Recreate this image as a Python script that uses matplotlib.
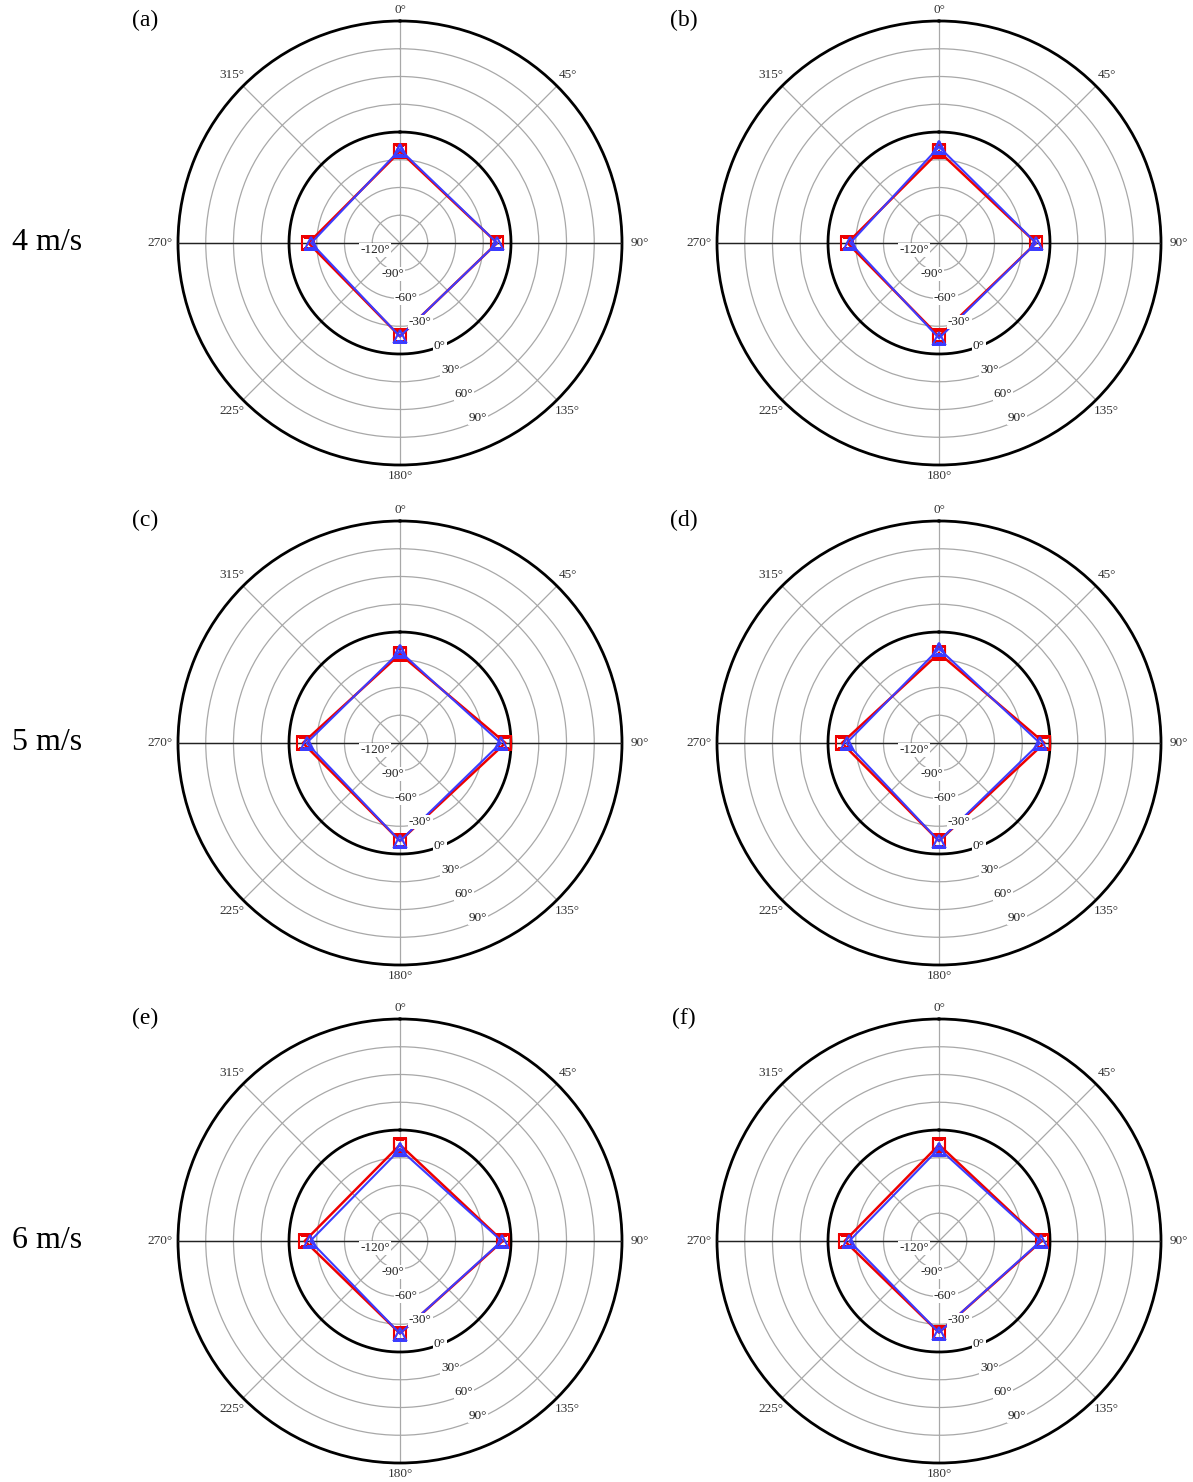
import numpy as np
import matplotlib
matplotlib.use('Agg')
import matplotlib.pyplot as plt
from matplotlib.transforms import offset_copy

# ---------------- data ----------------
theta_deg = [0, 90, 180, 270]
panel_labels = ['(a)', '(b)', '(c)', '(d)', '(e)', '(f)']
row_labels = ['4 m/s', '5 m/s', '6 m/s']

red_a = [-21, -15, -19, -21]
blue_a = [-19, -15, -19, -24]
red_b = [-21, -15, -19, -21]
blue_b = [-16, -15, -17, -24]
red_c = [-24, -6, -14, -15]
blue_c = [-21, -11, -14, -19]
red_d = [-23, -6, -14, -15]
blue_d = [-18, -11, -14, -20]
red_e = [-16, -9, -20, -17]
blue_e = [-21, -10, -20, -23]
red_f = [-16, -9, -21, -18]
blue_f = [-20, -10, -21, -23]

red_series = [red_a, red_b, red_c, red_d, red_e, red_f]
blue_series = [blue_a, blue_b, blue_c, blue_d, blue_e, blue_f]

angle_ticks = [0, 45, 90, 135, 180, 225, 270, 315]
angle_tick_labels = ['0°', '45°', '90°', '135°', '180°', '225°', '270°', '315°']
radial_ticks = [-120, -90, -60, -30, 0, 30, 60, 90]
radial_tick_labels = ['-120°', '-90°', '-60°', '-30°', '0°', '30°', '60°', '90°']
r_min, r_max = -120, 120

# ---------------- layout ----------------
W, H = 1193, 1482
fig = plt.figure(figsize=(W / 100, H / 100), dpi=100)
centers = [(400, 243), (939, 243), (400, 743), (939, 743), (400, 1241), (939, 1241)]
R = 222
serif = 'Liberation Serif'
tick_pads = [-2.5, 0.5, 2.5, 0.5, -2.5, 0.5, 2.5, 0.5]

for i, (cx, cy) in enumerate(centers):
    ax = fig.add_axes([(cx - R) / W, 1 - (cy + R) / H, 2 * R / W, 2 * R / H],
                      projection='polar')
    ax.set_theta_zero_location('N')
    ax.set_theta_direction(-1)
    ax.set_ylim(r_min, r_max)
    ax.set_thetagrids(angle_ticks, angle_tick_labels, fontsize=9.5,
                      color='#333333', family=serif)
    ax.set_rgrids([t for t in radial_ticks if t not in (r_min, 0)],
                  labels=[''] * 6)
    for tk, p in zip(ax.xaxis.get_major_ticks(), tick_pads):
        tk.set_pad(p)
    ax.grid(True, color='#a8a8a8', lw=0.9)
    ax.spines['polar'].set_linewidth(2)
    ax.spines['polar'].set_color('black')

    # darker horizontal axis line
    ax.plot(np.deg2rad([90, 270]), [r_max, r_max], color='#222222', lw=1,
            zorder=2.6)
    # thick zero circle
    th = np.linspace(0, 2 * np.pi, 400)
    ax.plot(th, np.zeros_like(th), color='black', lw=2, zorder=2.7)

    thc = np.deg2rad(theta_deg + [theta_deg[0]])
    rv = red_series[i] + [red_series[i][0]]
    bv = blue_series[i] + [blue_series[i][0]]
    ax.plot(thc, rv, color='#ee0000', lw=1.8, marker='s', ms=8, mfc='none',
            mec='#ee0000', mew=1.5, zorder=3)
    ax.plot(thc, bv, color='#3c3cff', lw=1.5, marker='^', ms=8, mfc='none',
            mec='#3c3cff', mew=1.5, zorder=3.1)

    trans = offset_copy(ax.transData, fig=fig, x=-10, y=-7, units='dots')
    for v, lab in zip(radial_ticks, radial_tick_labels):
        ax.text(np.deg2rad(150), v, lab, transform=trans, ha='right',
                va='center', fontsize=9.5, family=serif, color='#222222',
                bbox=dict(fc='white', ec='none', pad=0.8), zorder=4)

    fig.text((cx - 255) / W, 1 - (cy - 223) / H, panel_labels[i], ha='center',
             va='center', fontsize=17, family=serif)

for j, lab in enumerate(row_labels):
    fig.text(47 / W, 1 - centers[2 * j][1] / H, lab, ha='center', va='center',
             fontsize=23, family=serif)

fig.savefig('out.png', dpi=100)
